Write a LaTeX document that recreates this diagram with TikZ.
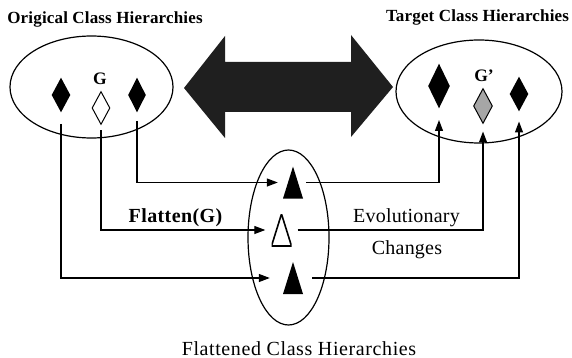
\documentclass[tikz,border=0pt]{standalone}
\usepackage{fontspec}
\setmainfont{Liberation Serif}
\usetikzlibrary{shapes.geometric,arrows.meta}
\tikzset{
  ell/.style={draw, ellipse, line width=1.2pt, inner sep=0pt},
  dia/.style={diamond, inner sep=0pt, line width=1pt},
  tri/.style={inner sep=0pt, minimum width=20pt, minimum height=32pt},
  trifill/.style={tri, path picture={\fill[black] (path picture bounding box.south west) -- (path picture bounding box.south east) -- (path picture bounding box.north) -- cycle;}},
  triopen/.style={tri, path picture={\draw[black, line width=1.6pt] (path picture bounding box.south west) -- (path picture bounding box.south east) -- (path picture bounding box.north) -- cycle;}},
  conn/.style={line width=1.2pt, -{Triangle[length=11pt,width=8pt]}},
  toplbl/.style={anchor=base, font=\fontsize{17}{19}\selectfont\bfseries\addfontfeatures{LetterSpace=1}},
  midlbl/.style={anchor=base, font=\fontsize{20}{22}\selectfont\addfontfeatures{LetterSpace=1}},
  glbl/.style={anchor=base, font=\fontsize{17.5}{19}\selectfont\bfseries},
}
\begin{document}
\begin{tikzpicture}[x=1pt,y=-1pt]
\useasboundingbox (0,0) rectangle (572,358);
% big double arrow
\fill[black!88] (184,88) -- (225,36) -- (225,62) -- (351,62) -- (351,35) -- (393,87)
  -- (351,137) -- (351,112) -- (225,112) -- (225,138) -- cycle;
% ellipses
\node[ell, minimum width=163pt, minimum height=102pt] (orig) at (91.5,87) {};
\node[ell, minimum width=166pt, minimum height=103pt] (targ) at (479,91.5) {};
\node[ell, minimum width=81pt, minimum height=175pt] (flat) at (288.5,237.5) {};
% left diamonds
\node[dia, fill=black, minimum width=19pt, minimum height=35pt] (ld1) at (61,95) {};
\node[dia, draw, fill=white, minimum width=18pt, minimum height=33pt] (ld2) at (101,108) {};
\node[dia, fill=black, minimum width=18pt, minimum height=35pt] (ld3) at (137,95) {};
% right diamonds
\node[dia, fill=black, minimum width=22pt, minimum height=45pt] (rd1) at (439,86) {};
\node[dia, draw, fill=black!35, minimum width=19pt, minimum height=35pt] (rd2) at (483,106) {};
\node[dia, fill=black, minimum width=19pt, minimum height=35pt] (rd3) at (519,94) {};
% triangles
\node[trifill] (ft1) at (293,182.5) {};
\node[triopen] (ft2) at (281.5,230) {};
\node[trifill] (ft3) at (293,278) {};
% labels
\node[toplbl] (l1) at (105,24) {Origical Class Hierarchies};
\node[toplbl] (l2) at (477.5,22) {Target Class Hierarchies};
\node[glbl] (g1) at (100,85) {G};
\node[glbl] (g2) at (484,82) {G'};
\node[anchor=base, font=\fontsize{20}{22}\selectfont\bfseries\addfontfeatures{LetterSpace=2}] (fl) at (175.5,222) {Flatten(G)};
\node[midlbl] (ev) at (406.5,222) {Evolutionary};
\node[midlbl] (ch) at (407,254) {Changes};
\node[midlbl, font=\fontsize{20}{22}\selectfont\addfontfeatures{LetterSpace=3}] (fc) at (299,355) {Flattened Class Hierarchies};
% connectors left -> flattened
\draw[conn, shorten <=8pt, shorten >=5pt] (ld3.south) |- (ft1.west);
\draw[conn, shorten <=5.5pt, shorten >=6pt] (ld2.south) |- (ft2.west);
\draw[conn, shorten <=11pt, shorten >=13pt] (ld1.south) |- (ft3.west);
% connectors flattened -> target
\draw[conn, shorten <=3pt, shorten >=11pt] (ft1.east) -| (rd1.south);
\draw[conn, shorten <=6pt, shorten >=7.5pt] (ft2.east) -| (rd2.south);
\draw[conn, shorten <=9pt, shorten >=9.5pt] (ft3.east) -| (rd3.south);
\end{tikzpicture}
\end{document}
